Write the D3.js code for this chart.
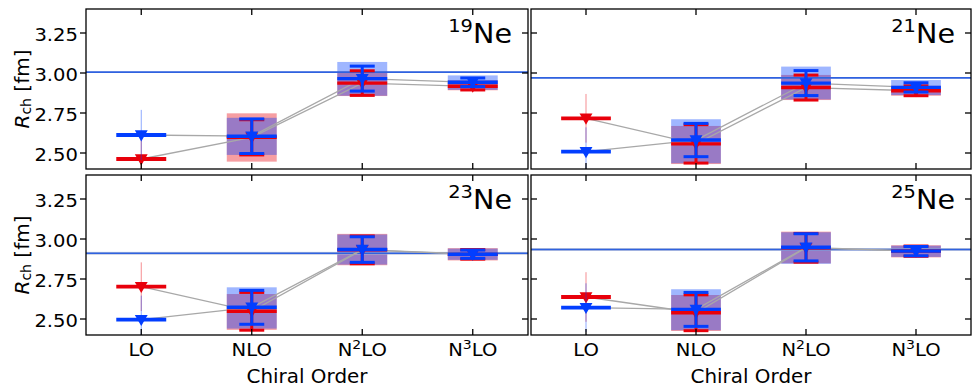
<!DOCTYPE html>
<html><head><meta charset="utf-8">
<script src="https://cdn.jsdelivr.net/npm/d3@7"></script>
<style>
body{margin:0;background:#fff}
svg{display:block}
text{font-family:"DejaVu Sans",sans-serif;fill:#000}
</style>
</head><body>
<svg id="chart" width="973" height="390"></svg>
<script>
// ---------- data ----------
const orders = ["LO", "NLO", "N2LO", "N3LO"];
const orderLabels = [["LO"], ["NLO"], ["N", "2", "LO"], ["N", "3", "LO"]];
const nuclei = ["19", "21", "23", "25"];
const element = "Ne";
const yTicks = [2.50, 2.75, 3.00, 3.25];
const yTickLabels = ["2.50", "2.75", "3.00", "3.25"];
const expRadius = [3.0055, 2.9695, 2.9105, 2.9345];
const expErr = [0.003, 0.003, 0.009, 0.009];

// blue series
const blueCenter = [
  [2.6125, 2.605, 2.965, 2.942],
  [2.508, 2.581, 2.937, 2.910],
  [2.496, 2.573, 2.934, 2.905],
  [2.571, 2.560, 2.948, 2.924]
];
const blueErr = [
  [0.157, 0.108, 0.078, 0.027],
  [0.152, 0.104, 0.078, 0.029],
  [0.150, 0.106, 0.080, 0.026],
  [0.152, 0.106, 0.085, 0.029]
];
const blueBoxLo = [
  [null, 2.488, 2.858, 2.895],
  [null, 2.436, 2.835, 2.862],
  [null, 2.440, 2.840, 2.870],
  [null, 2.430, 2.845, 2.888]
];
const blueBoxHi = [
  [null, 2.720, 3.069, 2.985],
  [null, 2.711, 3.040, 2.956],
  [null, 2.698, 3.028, 2.940],
  [null, 2.686, 3.042, 2.958]
];
// red series
const redCenter = [
  [2.4625, 2.598, 2.937, 2.917],
  [2.717, 2.557, 2.909, 2.889],
  [2.702, 2.548, 2.932, 2.904],
  [2.6375, 2.539, 2.945, 2.924]
];
const redErr = [
  [0.150, 0.110, 0.077, 0.023],
  [0.152, 0.120, 0.078, 0.031],
  [0.152, 0.118, 0.087, 0.030],
  [0.155, 0.112, 0.090, 0.032]
];
const redBoxLo = [
  [null, 2.446, 2.856, 2.892],
  [null, 2.431, 2.831, 2.858],
  [null, 2.432, 2.836, 2.866],
  [null, 2.425, 2.848, 2.885]
];
const redBoxHi = [
  [null, 2.748, 3.008, 2.955],
  [null, 2.669, 2.988, 2.920],
  [null, 2.656, 3.032, 2.943],
  [null, 2.650, 3.046, 2.961]
];

// ---------- style ----------
const RED = "#e8000b", BLUE = "#023eff", EXP = "#2f62e0", GREY = "#a8a8a8";
const SX = 1.12; // horizontal stretch of the original figure text

const svg = d3.select("#chart");

const panels = [
  {x0: 86, x1: 528, y0: 9, y1: 169, left: true, bottom: false},
  {x0: 531, x1: 971, y0: 9, y1: 169, left: false, bottom: false},
  {x0: 86, x1: 528, y0: 175, y1: 335, left: true, bottom: true},
  {x0: 531, x1: 971, y0: 175, y1: 335, left: false, bottom: true}
];

function stretchedText(parent, x, y, anchor, size, parts, sx) {
  const g = parent.append("g").attr("transform", `translate(${x},${y}) scale(${sx || SX},1)`);
  const t = g.append("text").attr("text-anchor", anchor).attr("font-size", size);
  parts.forEach(p => {
    const ts = t.append("tspan").text(p.t);
    if (p.size) ts.attr("font-size", p.size);
    if (p.dy) ts.attr("dy", p.dy);
    if (p.style) ts.attr("font-style", p.style);
  });
  return g;
}

panels.forEach((P, i) => {
  const x = d3.scaleLinear().domain([-0.5, 3.5]).range([P.x0, P.x1]);
  const y = d3.scaleLinear().domain([2.4, 3.4]).range([P.y1, P.y0]);
  const g = svg.append("g");
  const clipId = "clip" + i;
  svg.append("clipPath").attr("id", clipId).append("rect")
    .attr("x", P.x0).attr("y", P.y0).attr("width", P.x1 - P.x0).attr("height", P.y1 - P.y0);
  const data = g.append("g").attr("clip-path", `url(#${clipId})`);

  const halfW = 0.226, capW = 0.113;
  const idx = [0, 1, 2, 3];

  // boxes: red then blue
  [[redBoxLo, redBoxHi, RED, 0.38], [blueBoxLo, blueBoxHi, BLUE, 0.38]].forEach(([lo, hi, col, op]) => {
    data.selectAll(null).data(idx.filter(k => lo[i][k] !== null)).enter().append("rect")
      .attr("x", k => x(k - halfW)).attr("width", k => x(k + halfW) - x(k - halfW))
      .attr("y", k => y(hi[i][k])).attr("height", k => y(lo[i][k]) - y(hi[i][k]))
      .attr("fill", col).attr("fill-opacity", op);
  });

  // experimental band + line
  data.append("rect").attr("x", P.x0).attr("width", P.x1 - P.x0)
    .attr("y", y(expRadius[i] + expErr[i])).attr("height", y(expRadius[i] - expErr[i]) - y(expRadius[i] + expErr[i]))
    .attr("fill", "#a9b3cf").attr("fill-opacity", 0.7);
  data.append("line").attr("x1", P.x0).attr("x2", P.x1)
    .attr("y1", y(expRadius[i])).attr("y2", y(expRadius[i]))
    .attr("stroke", EXP).attr("stroke-width", 1.6);

  // connecting grey lines
  const line = d3.line().x((d, k) => x(k)).y(d => y(d));
  [redCenter, blueCenter].forEach(c => {
    data.append("path").attr("d", line(c[i])).attr("fill", "none")
      .attr("stroke", GREY).attr("stroke-width", 1.3);
  });

  // series: red then blue
  [[redCenter, redErr, RED], [blueCenter, blueErr, BLUE]].forEach(([c, e, col]) => {
    idx.forEach(k => {
      const v = c[i][k], er = e[i][k];
      if (k === 0) {
        data.append("line").attr("x1", x(k)).attr("x2", x(k))
          .attr("y1", y(v - er)).attr("y2", y(v + er))
          .attr("stroke", col).attr("stroke-opacity", 0.45).attr("stroke-width", 1);
      } else {
        data.append("line").attr("x1", x(k)).attr("x2", x(k))
          .attr("y1", y(v - er)).attr("y2", y(v + er))
          .attr("stroke", col).attr("stroke-width", 3);
        [v - er, v + er].forEach(cv => {
          data.append("line").attr("x1", x(k - capW)).attr("x2", x(k + capW))
            .attr("y1", y(cv)).attr("y2", y(cv))
            .attr("stroke", col).attr("stroke-width", 3);
        });
      }
      data.append("line").attr("x1", x(k - halfW)).attr("x2", x(k + halfW))
        .attr("y1", y(v)).attr("y2", y(v))
        .attr("stroke", col).attr("stroke-width", k === 0 ? 3.8 : 3.4);
      data.append("path")
        .attr("d", d3.symbol(d3.symbolTriangle, 72)())
        .attr("transform", `translate(${x(k)},${y(v) - 1}) rotate(180)`)
        .attr("fill", col);
    });
  });

  // ticks
  const tickG = g.append("g").attr("stroke", "#000").attr("stroke-width", 1.3);
  const TL = 6;
  yTicks.forEach(t => {
    const yy = y(t);
    if (P.left) {
      tickG.append("line").attr("x1", P.x0 - TL).attr("x2", P.x0).attr("y1", yy).attr("y2", yy);
    } else {
      tickG.append("line").attr("x1", P.x0).attr("x2", P.x0 + TL).attr("y1", yy).attr("y2", yy);
    }
    tickG.append("line").attr("x1", P.x1 - TL).attr("x2", P.x1).attr("y1", yy).attr("y2", yy);
  });
  orders.forEach((o, k) => {
    const xx = x(k);
    tickG.append("line").attr("x1", xx).attr("x2", xx).attr("y1", P.y0).attr("y2", P.y0 + TL);
    tickG.append("line").attr("x1", xx).attr("x2", xx).attr("y1", P.y1 - TL).attr("y2", P.y1);
  });

  // frame
  g.append("rect").attr("x", P.x0).attr("y", P.y0).attr("width", P.x1 - P.x0).attr("height", P.y1 - P.y0)
    .attr("fill", "none").attr("stroke", "#000").attr("stroke-width", 1.3);

  // y tick labels + y label
  if (P.left) {
    yTicks.forEach((t, j) => {
      stretchedText(g, P.x0 - 8, y(t) + 8, "end", 17.5, [{t: yTickLabels[j]}]);
    });
    const yl = g.append("text")
      .attr("transform", `translate(28.5,${(P.y0 + P.y1) / 2}) rotate(-90)`)
      .attr("text-anchor", "middle").attr("font-size", 20);
    yl.append("tspan").text("R").attr("font-style", "italic");
    yl.append("tspan").text("ch").attr("font-size", 14).attr("dy", 2.5);
    yl.append("tspan").text(" [fm]").attr("dy", -2.5);
  }

  // x tick labels + x label
  if (P.bottom) {
    orderLabels.forEach((parts, k) => {
      const p = parts.length === 1 ? [{t: parts[0]}]
        : [{t: parts[0]}, {t: parts[1], size: 12.5, dy: -7}, {t: parts[2], dy: 7}];
      stretchedText(g, x(k), 356, "middle", 17.5, p);
    });
    stretchedText(g, (P.x0 + P.x1) / 2, 383.3, "middle", 18.8, [{t: "Chiral Order"}], 1.06);
  }

  // isotope label
  stretchedText(g, P.x1 - 16, P.y0 + 33.7, "end", 26.5,
    [{t: nuclei[i], size: 18, dy: -11}, {t: element, dy: 11}], 1.08);
});
</script>
</body></html>
